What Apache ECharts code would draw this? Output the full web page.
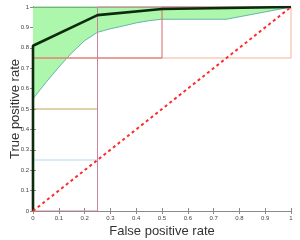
<!DOCTYPE html>
<html><head><meta charset="utf-8">
<script src="https://cdn.jsdelivr.net/npm/echarts@6/dist/echarts.min.js"></script>
<style>html,body{margin:0;padding:0;background:#fff}#c{width:300px;height:240px}</style>
</head><body><div id="c"></div>
<script>
// Band (mean ± std) sampled on FPR grid
const bandX     = [0, 0.05, 0.1, 0.15, 0.2, 0.25, 0.3, 0.35, 0.4, 0.45, 0.5, 0.75, 1];
const bandLower = [0.55, 0.63, 0.705, 0.775, 0.835, 0.876, 0.893, 0.907, 0.922, 0.933, 0.94, 0.94, 1];
const bandUpper = [1, 1, 1, 1, 1, 1, 1, 1, 1, 1, 1, 1, 1];
// Mean ROC
const meanX = [0, 0, 0.25, 0.5, 1];
const meanY = [0, 0.81, 0.96, 0.99, 1];
// Individual ROC curves
const curveCyanX   = [0, 0, 0.25, 0.25, 1];
const curveCyanY   = [0, 0.25, 0.25, 1, 1];
const curveOliveX  = [0, 0, 0.25, 0.25, 1];
const curveOliveY  = [0, 0.5, 0.5, 1, 1];
const curveOrangeX = [0, 0, 1, 1];
const curveOrangeY = [0, 0.75, 0.75, 1];
const curveRedX    = [0, 0, 0.5, 0.5, 1];
const curveRedY    = [0, 0.75, 0.75, 1, 1];
const curvePinkX   = [0, 0.25, 0.25, 1];
const curvePinkY   = [0, 0, 1, 1];
// Chance diagonal
const diagX = [0, 1];
const diagY = [0, 1];
const tickValues = [0, 0.1, 0.2, 0.3, 0.4, 0.5, 0.6, 0.7, 0.8, 0.9, 1];

const zip = (xs, ys) => xs.map((x, i) => [x, ys[i]]);
const chart = echarts.init(document.getElementById('c'), null, {renderer: 'canvas'});
const lbl = {fontSize: 6, color: '#444', fontFamily: 'Liberation Sans, Arial, sans-serif'};
const axLine = {lineStyle: {color: '#8a8a8a', width: 1}};
const tick = {inside: true, length: 3, lineStyle: {color: '#8a8a8a'}};
const nameStyle = {fontSize: 13, color: '#333', fontFamily: 'Liberation Sans, Arial, sans-serif'};
function line(data, color, width, extra) {
  return Object.assign({type: 'line', data: data, showSymbol: false, symbol: 'none',
    lineStyle: {color: color, width: width}, silent: true}, extra || {});
}
chart.setOption({
  animation: false,
  grid: {left: 33, right: 9, top: 7, bottom: 29, containLabel: false, outerBoundsMode: 'none'},
  xAxis: [
    {type: 'value', min: 0, max: 1, interval: 0.1, position: 'bottom',
     name: 'False positive rate', nameLocation: 'middle', nameGap: 14, nameMoveOverlap: false,
     nameTextStyle: nameStyle,
     axisLine: axLine, axisTick: tick, splitLine: {show: false},
     axisLabel: Object.assign({margin: 4, formatter: v => String(+v.toFixed(1))}, lbl)},
    {type: 'value', min: 0, max: 1, interval: 0.1, position: 'top',
     axisLine: axLine, axisTick: tick, splitLine: {show: false}, axisLabel: {show: false}}
  ],
  yAxis: [
    {type: 'value', min: 0, max: 1, interval: 0.1, position: 'left',
     name: 'True positive rate', nameLocation: 'middle', nameGap: 11, nameMoveOverlap: false,
     nameTextStyle: nameStyle,
     axisLine: axLine, axisTick: tick, splitLine: {show: false},
     axisLabel: Object.assign({margin: 4, formatter: v => String(+v.toFixed(1))}, lbl)},
    {type: 'value', min: 0, max: 1, interval: 0.1, position: 'right',
     axisLine: axLine, axisTick: tick, splitLine: {show: false}, axisLabel: {show: false}}
  ],
  series: [
    line(zip(bandX, bandLower), '#4aa3a0', 0.8, {areaStyle: {color: '#adf7ad', opacity: 1, origin: 'end'}}),
    line(zip(bandX, bandUpper), '#2f7d2f', 1),
    line(zip(curveCyanX, curveCyanY), '#a9dcf0', 1),
    line(zip(curveOliveX, curveOliveY), '#c4a35a', 1),
    line(zip(curveOrangeX, curveOrangeY), '#f6b39a', 1),
    line(zip(curveRedX, curveRedY), '#d46868', 1),
    line(zip(curvePinkX, curvePinkY), '#c9849c', 1),
    line(zip(meanX, meanY), '#0c2a0c', 2.6),
    line(zip(diagX, diagY), '#ff2b2b', 2, {lineStyle: {color: '#ff2b2b', width: 2, type: [3, 3]}})
  ]
});
</script></body></html>
